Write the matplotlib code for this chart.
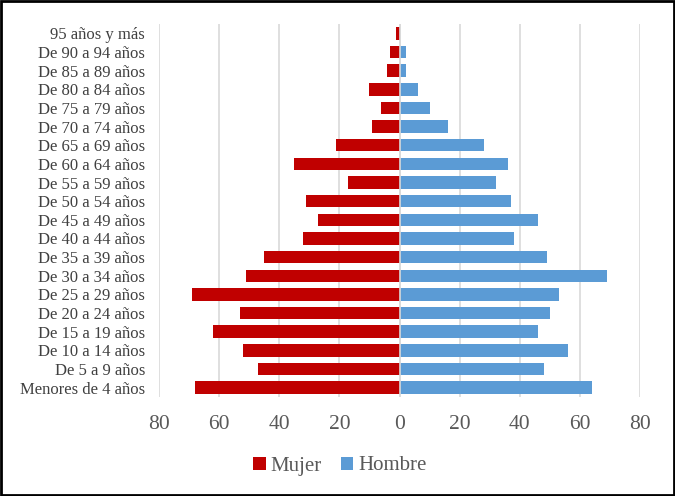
import matplotlib.pyplot as plt
import numpy as np
from matplotlib.patches import Rectangle

plt.rcParams['font.family'] = ['Liberation Serif', 'DejaVu Serif']

grupos = ['Menores de 4 años', 'De 5 a 9 años', 'De 10 a 14 años', 'De 15 a 19 años',
          'De 20 a 24 años', 'De 25 a 29 años', 'De 30 a 34 años', 'De 35 a 39 años',
          'De 40 a 44 años', 'De 45 a 49 años', 'De 50 a 54 años', 'De 55 a 59 años',
          'De 60 a 64 años', 'De 65 a 69 años', 'De 70 a 74 años', 'De 75 a 79 años',
          'De 80 a 84 años', 'De 85 a 89 años', 'De 90 a 94 años', '95 años y más']
mujer = [68, 47, 52, 62, 53, 69, 51, 45, 32, 27, 31, 17, 35, 21, 9, 6, 10, 4, 3, 1]
hombre = [64, 48, 56, 46, 50, 53, 69, 49, 38, 46, 37, 32, 36, 28, 16, 10, 6, 2, 2, 0]
ticks = [-80, -60, -40, -20, 0, 20, 40, 60, 80]

ROJO = '#C00000'
AZUL = '#5B9BD5'
GRIS = '#595959'

fig = plt.figure(figsize=(6.75, 4.96), dpi=100)
ax = fig.add_axes([159 / 675, 1 - 397 / 496, (640 - 159) / 675, (397 - 24) / 496])

y = np.arange(len(grupos))
ax.barh(y, -np.array(mujer), height=0.67, color=ROJO, label='Mujer', zorder=3)
ax.barh(y, hombre, height=0.67, color=AZUL, label='Hombre', zorder=3)

ax.set_xlim(-80, 80)
ax.set_ylim(-0.5, len(grupos) - 0.5)
ax.set_xticks(ticks)
ax.set_xticklabels([str(abs(t)) for t in ticks], fontsize=15.5, color=GRIS)
ax.set_yticks(y)
ax.set_yticklabels(grupos, fontsize=12, color='#404040')
ax.tick_params(axis='both', length=0)
ax.tick_params(axis='x', pad=13)
ax.tick_params(axis='y', pad=10)
ax.xaxis.grid(True, color='#D9D9D9', linewidth=1.2, zorder=0)
ax.axvline(0, color='#D9D9D9', linewidth=1.2, zorder=4)
for s in ax.spines.values():
    s.set_visible(False)

fig.legend(loc='center', bbox_to_anchor=(340 / 675, 1 - 466 / 496), ncol=2, frameon=False,
           fontsize=15, handlelength=0.6, handleheight=0.6, handletextpad=0.25,
           columnspacing=0.9, labelcolor=GRIS)

fig.patches.append(Rectangle((0.002, 0.003), 0.996, 0.994, transform=fig.transFigure,
                             fill=False, edgecolor='black', linewidth=2))

fig.savefig('out.png', dpi=100)
